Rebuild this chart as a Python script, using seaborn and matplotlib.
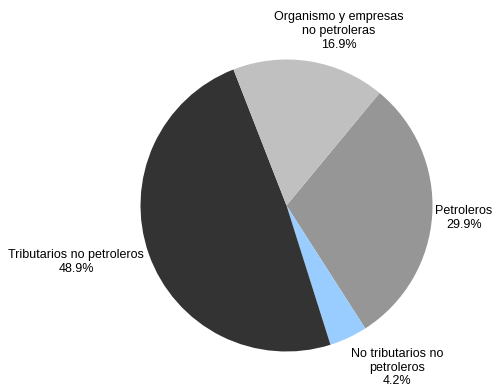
import matplotlib
matplotlib.use("Agg")
import matplotlib.pyplot as plt
import seaborn as sns

# Data
categories = ["Petroleros", "No tributarios no\npetroleros", "Tributarios no petroleros",
              "Organismo y empresas\nno petroleras"]
shares = [29.9, 4.2, 48.9, 16.9]
colors = ["#969696", "#99CCFF", "#333333", "#C0C0C0"]

sns.set_theme(style="white")
plt.rcParams['font.family'] = ['Liberation Sans', 'DejaVu Sans']

W, H = 498, 389
fig = plt.figure(figsize=(W / 100, H / 100), dpi=100)
ax = fig.add_axes([0, 0, 1, 1])

cx, cy, r = 286.5, H - 205.5, 146
ax.pie(shares, colors=colors, startangle=50.4, counterclock=False,
       center=(cx, cy), radius=r, frame=True,
       wedgeprops=dict(linewidth=0))
ax.set_xlim(0, W)
ax.set_ylim(0, H)
ax.set_aspect('equal')
ax.axis('off')

label_pos = [(464, H - 218), (397, H - 367.5), (76, H - 262), (339, H - 31)]
for cat, val, (x, y) in zip(categories, shares, label_pos):
    ax.text(x, y, f"{cat}\n{val:.1f}%", ha='center', va='center',
            fontsize=9, color='#000000', linespacing=1.2)

fig.savefig("out.png", dpi=100)
